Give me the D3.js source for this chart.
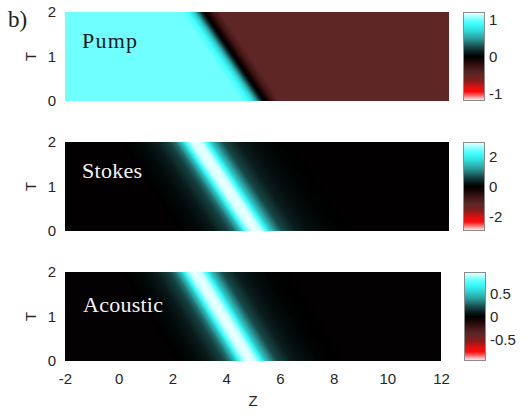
<!DOCTYPE html>
<html lang="en">
<head>
    <meta charset="UTF-8">
    <title>Pump / Stokes / Acoustic</title>
    <style>
        body { margin: 0; padding: 0; background: #ffffff; }
        svg { display: block; }
        .tick text { font-family: 'Liberation Sans', Arial, sans-serif; font-size: 15px; fill: #262626; }
        .panel-label { font-family: 'Liberation Serif', 'Times New Roman', serif; font-size: 22px; }
    </style>
</head>
<body>
    <svg id="chart" width="526" height="416"></svg>
    <script src="https://d3js.org/d3.v7.min.js"></script>
    <script>
        // ---- data ----
        const panelNames = ["Pump", "Stokes", "Acoustic"];
        const zTicks = [-2, 0, 2, 4, 6, 8, 10, 12];
        const tTicks = [0, 1, 2];
        // Z of the front / pulse centre at T = 0 and at T = 2
        const frontAtT0 = [5.29, 4.95, 4.90];
        const frontAtT2 = [3.10, 2.78, 2.86];
        // profiles across the front (offset in Z from the front line)
        const pumpOffset = [-3, -0.85, -0.6, -0.4, -0.25, -0.1, 0, 0.12, 0.3, 0.55, 3];
        const pumpValue = [1.02, 1.02, 0.92, 0.68, 0.4, 0.12, 0, -0.12, -0.3, -0.47, -0.47];
        const stokesOffset = [-2.8, -2.0, -1.5, -1.0, -0.75, -0.55, -0.38, -0.22, 0, 0.22, 0.38, 0.55, 0.75, 1.0, 1.5, 2.0, 2.6, 3.6];
        const stokesValue = [0, 0.12, 0.3, 0.6, 0.95, 1.5, 2.3, 2.85, 3.0, 2.85, 2.3, 1.6, 1.1, 0.65, 0.33, 0.17, 0.07, 0];
        const acousticOffset = [-2.8, -2.0, -1.5, -1.0, -0.75, -0.55, -0.38, -0.22, 0, 0.22, 0.38, 0.55, 0.75, 1.0, 1.5, 2.0, 2.6, 3.6];
        const acousticValue = [0, 0.04, 0.1, 0.2, 0.32, 0.5, 0.76, 0.93, 0.98, 0.93, 0.76, 0.53, 0.37, 0.22, 0.11, 0.055, 0.02, 0];
        // colour limits and colorbar ticks
        const cLow = [-1.19, -2.95, -0.96];
        const cHigh = [1.22, 3.0, 0.98];
        const cbTicks = [[-1, 0, 1], [-2, 0, 2], [-0.5, 0, 0.5]];
        // colormap (0 = bottom of colorbar, 1 = top)
        const cmapPos = [0, 0.02, 0.06, 0.10, 0.15, 0.22, 0.30, 0.38, 0.45, 0.50, 0.55, 0.62, 0.70, 0.80, 0.86, 0.91, 0.96, 1];
        const cmapColor = ["#ffeeee", "#ffc8c8", "#ff6060", "#ff0a0a", "#e01010", "#8a1a1a", "#5e2626", "#401515", "#1a0505",
                           "#000000", "#0a1c1c", "#1a5252", "#2a9a9a", "#30dede", "#38fafa", "#66ffff", "#b0ffff", "#f0ffff"];

        const profiles = [[pumpOffset, pumpValue], [stokesOffset, stokesValue], [acousticOffset, acousticValue]];

        // ---- layout ----
        const layout = [
            {top: 12, bottom: 101, left: 65, right: 449, cbLeft: 463, cbRight: 485},
            {top: 142, bottom: 231, left: 65, right: 449, cbLeft: 463, cbRight: 485},
            {top: 272, bottom: 361, left: 65, right: 441, cbLeft: 464, cbRight: 486}
        ];

        const svg = d3.select("#chart");
        const defs = svg.append("defs");
        const cmap = d3.scaleLinear().domain(cmapPos).range(cmapColor).interpolate(d3.interpolateRgb).clamp(true);

        svg.append("text")
            .attr("x", 8).attr("y", 27)
            .attr("font-family", "'Liberation Serif', serif")
            .attr("font-size", 23).attr("fill", "#222")
            .text("b)");

        panelNames.forEach((name, i) => {
            const L = layout[i];
            const x = d3.scaleLinear().domain([-2, 12]).range([L.left, L.right]);
            const y = d3.scaleLinear().domain([0, 2]).range([L.bottom, L.top]);
            const norm = d3.scaleLinear().domain([cLow[i], cHigh[i]]).range([0, 1]);
            const [offs, vals] = profiles[i];
            const prof = d3.scaleLinear().domain(offs).range(vals).clamp(true);

            // front line in pixels
            const ax = x(frontAtT2[i]), ay = y(2);
            const bx = x(frontAtT0[i]), by = y(0);
            const dx = bx - ax, dy = by - ay, len = Math.hypot(dx, dy);
            const nx = dy / len, ny = -dx / len;
            const wx = nx * nx, wy = nx * ny;
            const pxPerZ = x(1) - x(0);
            const oMin = offs[0], oMax = offs[offs.length - 1];

            const grad = defs.append("linearGradient")
                .attr("id", "field" + i)
                .attr("gradientUnits", "userSpaceOnUse")
                .attr("x1", ax + oMin * pxPerZ * wx).attr("y1", ay + oMin * pxPerZ * wy)
                .attr("x2", ax + oMax * pxPerZ * wx).attr("y2", ay + oMax * pxPerZ * wy);
            const n = 300;
            d3.range(n + 1).forEach(k => {
                const o = oMin + (oMax - oMin) * k / n;
                grad.append("stop")
                    .attr("offset", k / n)
                    .attr("stop-color", cmap(norm(prof(o))));
            });

            svg.append("rect")
                .attr("x", L.left).attr("y", L.top)
                .attr("width", L.right - L.left).attr("height", L.bottom - L.top)
                .attr("fill", `url(#field${i})`);

            // axes
            const yAxis = svg.append("g")
                .attr("transform", `translate(${L.left},0)`)
                .call(d3.axisLeft(y).tickValues(tTicks).tickSize(0).tickPadding(9).tickFormat(d => String(d)));
            yAxis.select(".domain").remove();

            svg.append("text")
                .attr("transform", `translate(36,${(L.top + L.bottom) / 2}) rotate(-90)`)
                .attr("text-anchor", "middle")
                .attr("font-family", "'Liberation Sans', sans-serif")
                .attr("font-size", 15).attr("fill", "#262626")
                .text("T");

            if (i === 2) {
                const xAxis = svg.append("g")
                    .attr("transform", `translate(0,${L.bottom})`)
                    .call(d3.axisBottom(x).tickValues(zTicks).tickSize(0).tickPadding(12).tickFormat(d => String(d)));
                xAxis.select(".domain").remove();
                svg.append("text")
                    .attr("x", (L.left + L.right) / 2).attr("y", 406)
                    .attr("text-anchor", "middle")
                    .attr("font-family", "'Liberation Sans', sans-serif")
                    .attr("font-size", 15).attr("fill", "#262626")
                    .text("Z");
            }

            // panel label
            const labelPos = [[82, 48, 55, "#1a1a1a"], [82, 178, 60, "#f4f4f4"], [83, 312, 80, "#f4f4f4"]][i];
            svg.append("text")
                .attr("class", "panel-label")
                .attr("x", labelPos[0]).attr("y", labelPos[1])
                .attr("textLength", labelPos[2]).attr("lengthAdjust", "spacing")
                .attr("fill", labelPos[3])
                .text(name);

            // colorbar
            const cbGrad = defs.append("linearGradient")
                .attr("id", "cb" + i)
                .attr("x1", 0).attr("y1", 1).attr("x2", 0).attr("y2", 0);
            cmapPos.forEach((p, k) => {
                cbGrad.append("stop").attr("offset", p).attr("stop-color", cmapColor[k]);
            });
            svg.append("rect")
                .attr("x", L.cbLeft + 0.5).attr("y", L.top + 0.5)
                .attr("width", L.cbRight - L.cbLeft - 1).attr("height", L.bottom - L.top - 1)
                .attr("fill", `url(#cb${i})`)
                .attr("stroke", "#8c8c8c").attr("stroke-width", 1);
            const cb = d3.scaleLinear().domain([cLow[i], cHigh[i]]).range([L.bottom, L.top]);
            const cbAxis = svg.append("g")
                .attr("transform", `translate(${L.cbRight},0)`)
                .call(d3.axisRight(cb).tickValues(cbTicks[i]).tickSize(0).tickPadding(4).tickFormat(d => String(d)));
            cbAxis.select(".domain").remove();
        });
    </script>
</body>
</html>
